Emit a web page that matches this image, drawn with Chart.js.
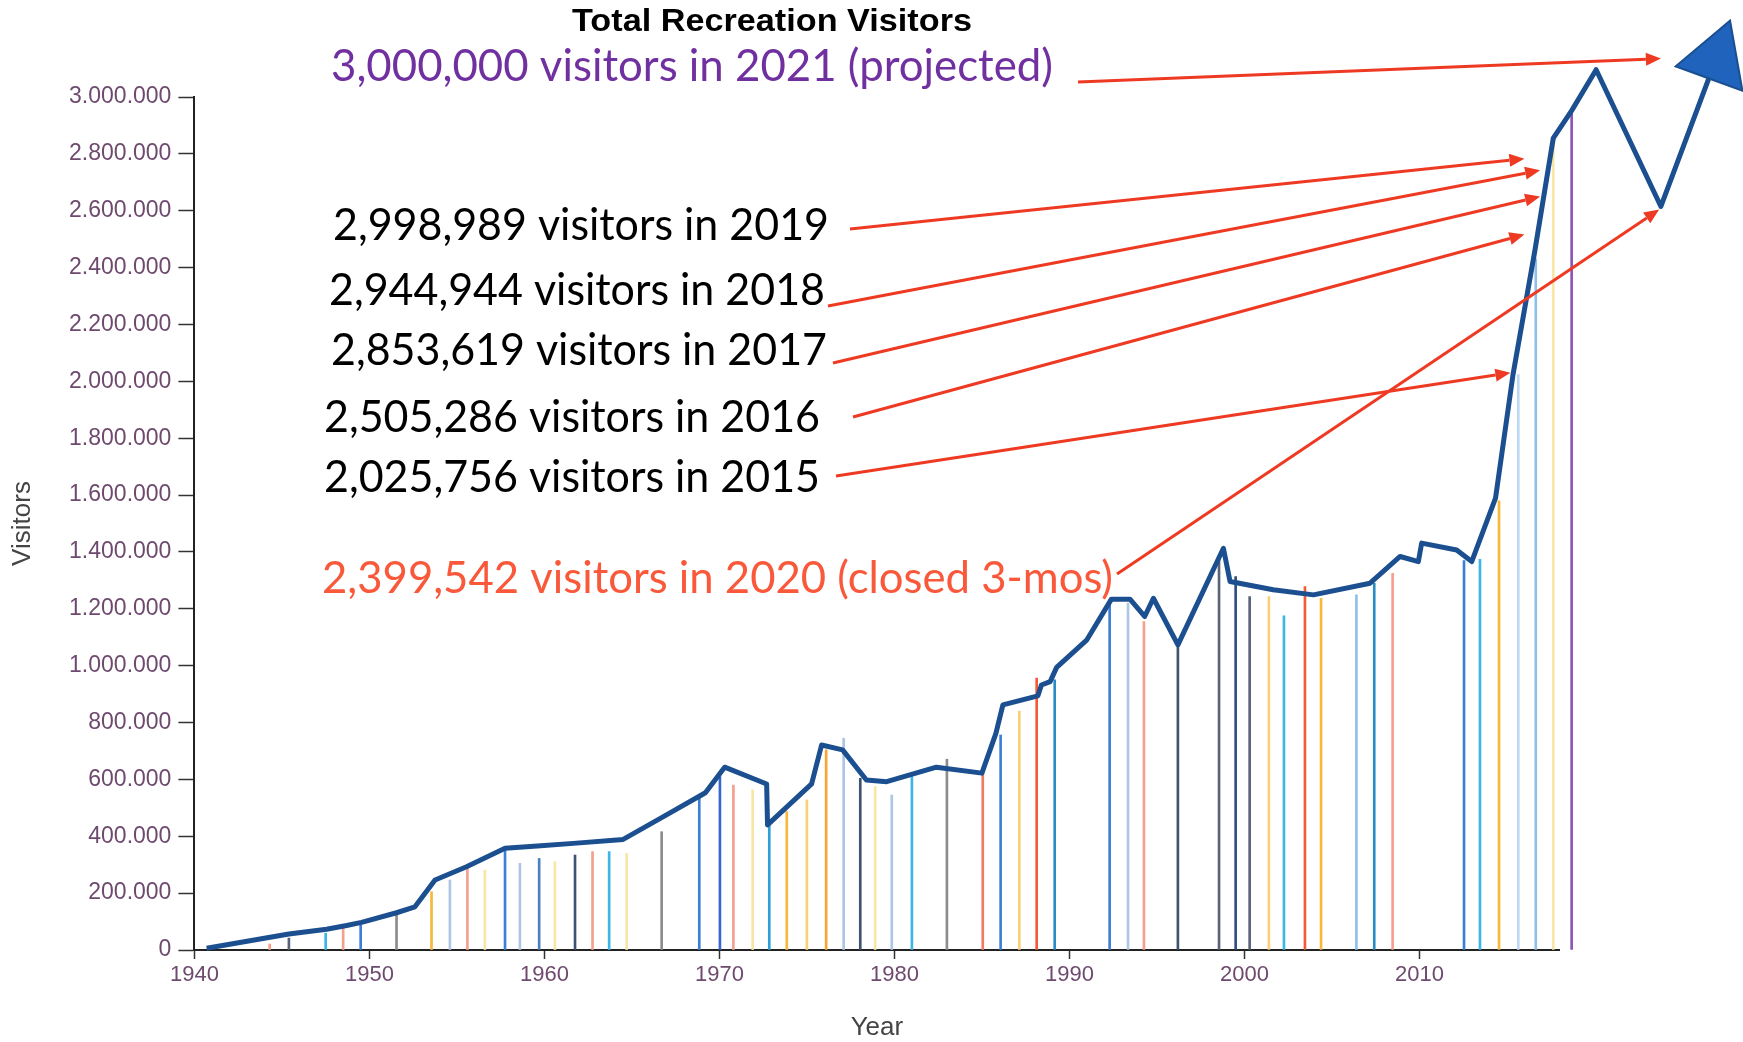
<!DOCTYPE html>
<html>
<head>
<meta charset="utf-8">
<script src="https://cdn.jsdelivr.net/npm/chart.js@4.4.1/dist/chart.umd.min.js"></script>
<style>
  html, body { margin: 0; padding: 0; background: #fff; }
</style>
</head>
<body>
<canvas id="chart" width="1743" height="1042"></canvas>
<script>
// blue visitors line (years are fractional where the vertex sits between years)
const lineYears = [1940.7, 1945.4, 1947.55, 1948.7, 1949.55, 1951.55, 1952.6, 1953.75, 1955.55, 1957.75,
  1959.6, 1961.65, 1964.5, 1966.8, 1969.2, 1970.3, 1972.7, 1972.75, 1975.27, 1975.84,
  1977.04, 1978.4, 1979.56, 1982.4, 1985.0, 1985.8, 1986.2, 1988.2, 1988.4, 1988.9,
  1989.27, 1991.0, 1992.4, 1993.46, 1994.3, 1994.8, 1996.2, 1998.8, 1999.18, 2001.65,
  2003.94, 2007.18, 2008.9, 2009.94, 2010.13, 2012.13, 2012.99, 2014.35, 2015.35, 2016.6,
  2017.65, 2018.7, 2020.1, 2023.8, 2026.95];
const lineVisitors = [6000, 56000, 73000, 86000, 97000, 131000, 152000, 246000, 293000, 358000,
  366000, 375000, 389000, 469000, 553000, 643000, 584000, 440000, 584000, 721000,
  704000, 598000, 592000, 643000, 622000, 762000, 862000, 894000, 932000, 944000,
  994000, 1091000, 1234000, 1234000, 1173000, 1237000, 1073000, 1413000, 1296000, 1267000,
  1249000, 1290000, 1384000, 1366000, 1431000, 1407000, 1366000, 1589000, 2024000, 2460000,
  2855000, 2952000, 3096000, 2615000, 3133000];

// thin coloured drop lines under the curve
const dropYears = [1944.3, 1945.4, 1947.5, 1948.5, 1949.5, 1951.55, 1953.55, 1954.6, 1955.6, 1956.6,
  1957.75, 1958.6, 1959.7, 1960.6, 1961.75, 1962.75, 1963.7, 1964.7, 1966.7, 1968.85,
  1970.03, 1970.8, 1971.9, 1972.85, 1973.85, 1975.0, 1976.1, 1977.1, 1978.05, 1978.9,
  1979.85, 1981.0, 1983.0, 1985.05, 1986.07, 1987.14, 1988.13, 1989.16, 1992.3, 1993.35,
  1994.26, 1996.2, 1998.55, 1999.5, 2000.3, 2001.4, 2002.26, 2003.46, 2004.38, 2006.4,
  2007.42, 2008.47, 2012.55, 2013.46, 2014.55, 2015.65, 2016.65, 2017.65, 2018.7];
const dropVisitors = [21000, 42000, 59000, 76000, 88000, 129000, 205000, 246000, 287000, 281000,
  352000, 305000, 322000, 311000, 334000, 346000, 346000, 340000, 416000, 540000,
  610000, 580000, 563000, 457000, 487000, 528000, 704000, 745000, 604000, 575000,
  545000, 610000, 671000, 622000, 756000, 840000, 956000, 950000, 1220000, 1220000,
  1155000, 1070000, 1378000, 1313000, 1243000, 1243000, 1175000, 1278000, 1237000, 1249000,
  1290000, 1325000, 1370000, 1374000, 1580000, 2024000, 2431000, 2846000, 2952000];
const dropColors = ['#f4a08c', '#5a6478', '#3bb6e6', '#f4a08c', '#3d7fd6', '#8c8c8c', '#f6b93b', '#aec6e4', '#f4a08c', '#f7e6a6',
  '#3d7fd6', '#aec6e4', '#4a7fc0', '#f7e6a6', '#3f5370', '#f4a08c', '#3bb6e6', '#f7e6a6', '#8c8c8c', '#3d7fd6',
  '#3467d0', '#f4a08c', '#f7e6a6', '#2f9fd8', '#f6b93b', '#f9cf7a', '#f7a534', '#aec6e4', '#3f5370', '#f7e6a6',
  '#aec6e4', '#3bb6e6', '#8c8c8c', '#f07a62', '#3d7fd6', '#f9cf7a', '#f25a38', '#2b8cc4', '#3d7fd6', '#aec6e4',
  '#f4a08c', '#3f5370', '#5a6478', '#2f4f7f', '#5a6478', '#f9cf7a', '#3bb6e6', '#f25a38', '#f6b93b', '#8fc0ea',
  '#2b8cc4', '#f4a08c', '#3d7fd6', '#3bb6e6', '#f6b93b', '#bcd8f2', '#8fc0ea', '#f7e6a6', '#8a56b8'];

const xTickYears = [1940, 1950, 1960, 1970, 1980, 1990, 2000, 2010];

const titleText = 'Total Recreation Visitors';

// call-outs: text box in pixels, arrow tip in data units (year, visitors)
const notes = [
  { text: '3,000,000 visitors in 2021 (projected)', color: '#7030a0', left: 331, cy: 67, width: 722, tail: [1078, 82], tip: [2023.8, 3135000] },
  { text: '2,998,989 visitors in 2019', color: '#000', left: 333, cy: 226, width: 496, tail: [850, 229], tip: [2016.0, 2783000] },
  { text: '2,944,944 visitors in 2018', color: '#000', left: 329, cy: 291, width: 496, tail: [828, 306], tip: [2016.9, 2742000] },
  { text: '2,853,619 visitors in 2017', color: '#000', left: 331, cy: 351, width: 496, tail: [833, 363], tip: [2016.9, 2650000] },
  { text: '2,505,286 visitors in 2016', color: '#000', left: 324, cy: 418, width: 496, tail: [853, 417], tip: [2016.0, 2516000] },
  { text: '2,025,756 visitors in 2015', color: '#000', left: 324, cy: 478, width: 496, tail: [836, 476], tip: [2015.2, 2030000] },
  { text: '2,399,542 visitors in 2020 (closed 3-mos)', color: '#f9583a', left: 322, cy: 579, width: 791, tail: [1117, 574], tip: [2023.7, 2604000] }
];

function fitText(ctx, text, left, cy, width) {
  const w = ctx.measureText(text).width;
  ctx.save();
  ctx.translate(left, cy);
  ctx.scale(width / w, 1);
  ctx.fillText(text, 0, 0);
  ctx.restore();
}

function arrow(ctx, x0, y0, x1, y1, color) {
  const a = Math.atan2(y1 - y0, x1 - x0);
  const head = 15, half = 6.5;
  const bx = x1 - head * Math.cos(a), by = y1 - head * Math.sin(a);
  ctx.strokeStyle = color;
  ctx.lineWidth = 3;
  ctx.beginPath();
  ctx.moveTo(x0, y0);
  ctx.lineTo(bx, by);
  ctx.stroke();
  ctx.fillStyle = color;
  ctx.beginPath();
  ctx.moveTo(x1, y1);
  ctx.lineTo(bx + half * Math.sin(a), by - half * Math.cos(a));
  ctx.lineTo(bx - half * Math.sin(a), by + half * Math.cos(a));
  ctx.closePath();
  ctx.fill();
}

const notesPlugin = {
  id: 'notes',
  afterDatasetsDraw(chart) {
    const {ctx, scales: {x, y}} = chart;

    // the arrowhead point sits outside the chart area, so Chart.js skips it; draw it against the whole canvas
    const head = chart.getDatasetMeta(0).data[lastIdx];
    head.draw(ctx, { left: 0, top: 0, right: chart.width, bottom: chart.height });

    ctx.save();
    ctx.textBaseline = 'middle';
    ctx.textAlign = 'left';

    ctx.fillStyle = '#000';
    ctx.font = 'bold 31px "Liberation Sans", Arial, sans-serif';
    fitText(ctx, titleText, 572, 22, 400);

    ctx.font = '44px Lato, "Open Sans", sans-serif';
    notes.forEach(n => {
      ctx.fillStyle = n.color;
      fitText(ctx, n.text, n.left, n.cy, n.width);
    });
    notes.forEach(n => {
      arrow(ctx, n.tail[0], n.tail[1], x.getPixelForValue(n.tip[0]), y.getPixelForValue(n.tip[1]), '#ee3a22');
    });
    ctx.restore();
  }
};

const lastIdx = lineYears.length - 1;
const axisFont = '"Liberation Sans", Arial, sans-serif';

new Chart(document.getElementById('chart'), {
  type: 'line',
  data: {
    datasets: [
      {
        type: 'line',
        data: lineYears.map((yr, i) => ({ x: yr, y: lineVisitors[i] })),
        borderColor: '#1b4f8f',
        borderWidth: 5,
        borderJoinStyle: 'round',
        tension: 0,
        clip: false,
        pointStyle: 'triangle',
        pointRadius: c => c.dataIndex === lastIdx ? 41 : 0,
        pointRotation: 20,
        pointBackgroundColor: '#1f63bd',
        pointBorderColor: '#1b4f8f',
        pointBorderWidth: 2,
        order: 0
      },
      {
        type: 'bar',
        data: dropYears.map((yr, i) => ({ x: yr, y: dropVisitors[i] })),
        backgroundColor: dropColors,
        barThickness: c => c.dataIndex === dropYears.length - 1 ? 3 : 2,
        clip: false,
        order: 1
      }
    ]
  },
  options: {
    responsive: false,
    animation: false,
    layout: { padding: { left: 0, right: 183.6, top: 97, bottom: 0 } },
    plugins: { legend: { display: false }, tooltip: { enabled: false } },
    scales: {
      x: {
        type: 'linear',
        bounds: 'data',
        offset: false,
        afterDataLimits: s => { s.min = 1940; s.max = 2018; },
        afterBuildTicks: s => { s.ticks = xTickYears.map(v => ({ value: v })); },
        afterFit: s => { s.height = 92; },
        grid: { drawOnChartArea: false, offset: false, color: '#333', tickLength: 9, tickWidth: 1.5 },
        border: { color: '#222', width: 2 },
        ticks: { color: '#6e4a6e', font: { family: axisFont, size: 22 }, padding: 3, maxRotation: 0, autoSkip: false, callback: v => String(v) },
        title: { display: true, text: 'Year', color: '#444', font: { family: axisFont, size: 26, lineHeight: 1 }, padding: { top: 0, bottom: 1 } }
      },
      y: {
        min: 0,
        max: 3000000,
        afterFit: s => { s.width = 194.4; },
        grid: { drawOnChartArea: false, color: '#333', tickLength: 16, tickWidth: 1.5 },
        border: { color: '#222', width: 2 },
        ticks: {
          stepSize: 200000,
          color: '#6e4a6e',
          font: { family: axisFont, size: 23 },
          padding: 7,
          callback: v => String(v).replace(/\B(?=(\d{3})+(?!\d))/g, '.')
        },
        title: { display: true, text: 'Visitors', color: '#444', font: { family: axisFont, size: 26 }, padding: { top: 7, bottom: 0 } }
      }
    }
  },
  plugins: [notesPlugin]
});
</script>
</body>
</html>
